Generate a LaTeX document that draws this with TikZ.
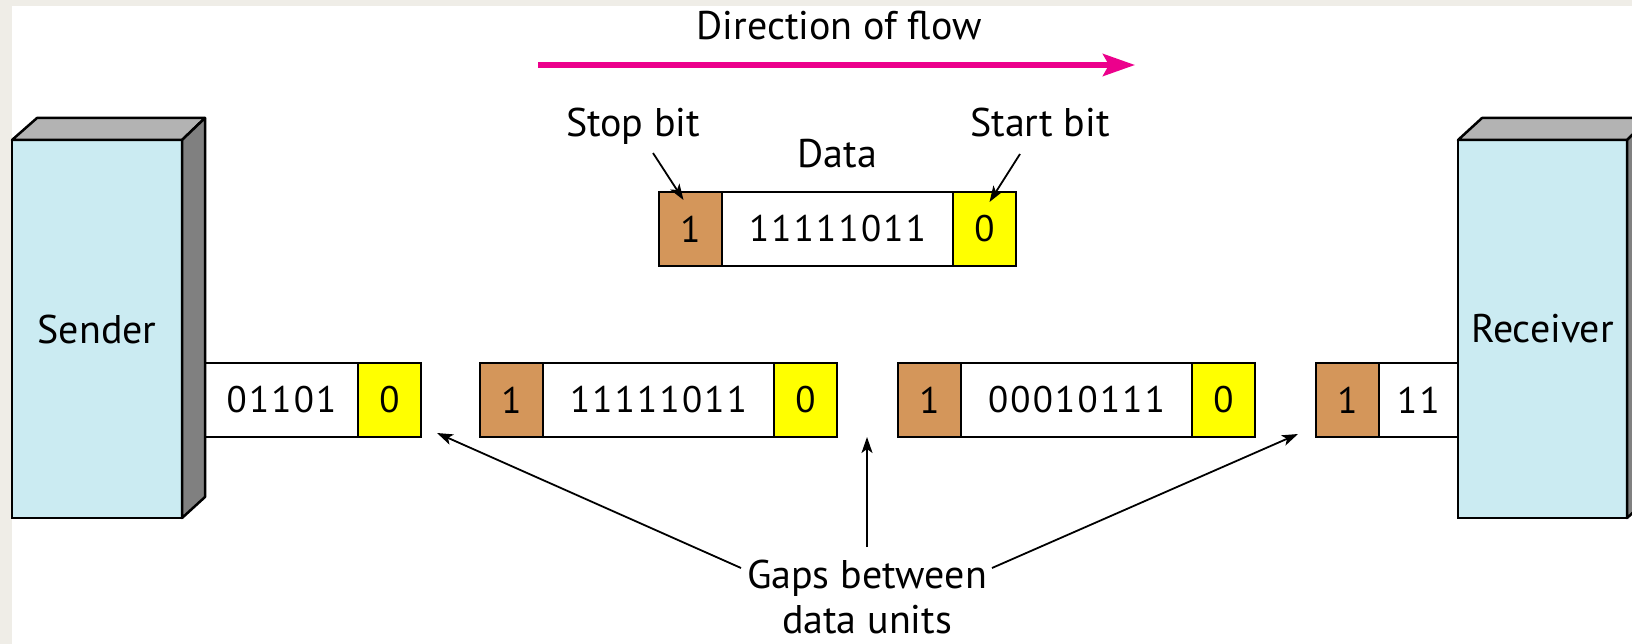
\documentclass[tikz,border=0pt]{standalone}
\usepackage{fontspec}
\setmainfont{PT Sans}
\newfontfamily\bitfamily[LetterSpace=6]{PT Sans}
\newcommand{\lblfont}{\fontsize{40}{46}\selectfont}
\newcommand{\bitfont}{\bitfamily\fontsize{37}{44}\selectfont}
\usetikzlibrary{arrows.meta}
\definecolor{beige}{HTML}{EFEDE7}
\definecolor{stopc}{HTML}{D4965A}
\definecolor{startc}{HTML}{FFFF00}
\definecolor{boxblue}{HTML}{CBEBF2}
\definecolor{topgray}{HTML}{B3B3B3}
\definecolor{sidegray}{HTML}{808080}
\definecolor{flowpink}{HTML}{EC008C}
\begin{document}
\begin{tikzpicture}[x=1pt,y=-1pt,
  bitcell/.style={draw=black, line width=2.5pt, inner sep=0pt, outer sep=0pt, minimum height=74pt, anchor=west, font=\bitfont},
  datacell/.style={bitcell, fill=white},
  stopcell/.style={bitcell, fill=stopc, minimum width=63pt},
  startcell/.style={bitcell, fill=startc, minimum width=63pt},
  lbltext/.style={font=\lblfont, inner sep=0pt, outer sep=0pt, anchor=base},
  stationbox/.style={draw=black, line width=2.5pt, fill=boxblue, inner sep=0pt, outer sep=0pt, minimum width=170pt, minimum height=378pt, font=\lblfont},
  sideface/.style={draw=black, line width=2.5pt, line join=round},
  ptr/.style={draw=black, line width=1.8pt, -{Stealth[length=16pt,width=11pt,inset=4pt]}},
  flowarrow/.style={draw=flowpink, line width=5.5pt, -{Stealth[length=32pt,width=22pt,inset=6pt]}}
]
\fill[beige] (0,0) rectangle (1632,644);
\fill[white] (12,6) rectangle (1632,644);
\useasboundingbox (0,0) rectangle (1632,644);

% flow arrow
\node[lbltext] (flowlbl) at (839,40) {Direction of flow};
\coordinate (flowS) at (538,65);
\coordinate (flowE) at (1135,65);
\draw[flowarrow] (flowS) -- (flowE);

% top data unit
\node[stopcell] (t1) at (659,229) {1};
\node[datacell, minimum width=231pt] (t2) at (t1.east) {11111011};
\node[startcell] (t3) at (t2.east) {0};
\node[lbltext] (stoplbl) at (633,137) {Stop bit};
\node[lbltext] (datalbl) at (837.5,168) {Data};
\node[lbltext] (startlbl) at (1040,137) {Start bit};
\draw[ptr] ([xshift=20pt,yshift=-16pt]stoplbl.base) -- ([xshift=-7pt,yshift=-8pt]t1.north);
\draw[ptr] ([xshift=-20pt,yshift=-17pt]startlbl.base) -- ([xshift=5pt,yshift=-10pt]t3.north);

% row of data units
\node[datacell, minimum width=153pt] (a1) at (205,400) {01101};
\node[startcell] (a2) at (a1.east) {0};
\node[stopcell] (b1) at (480,400) {1};
\node[datacell, minimum width=231pt] (b2) at (b1.east) {11111011};
\node[startcell] (b3) at (b2.east) {0};
\node[stopcell] (c1) at (898,400) {1};
\node[datacell, minimum width=231pt] (c2) at (c1.east) {00010111};
\node[startcell] (c3) at (c2.east) {0};
\node[stopcell] (d1) at (1316,400) {1};
\node[datacell, minimum width=79pt] (d2) at (d1.east) {11};

% sender
\node[stationbox] (sender) at (97,329) {Sender};
\draw[sideface, fill=topgray] (sender.north west) -- ++(25,-22) -- ++(168,0) -- (sender.north east) -- cycle;
\draw[sideface, fill=sidegray] (sender.north east) -- ++(23,-22) -- ++(0,379) -- (sender.south east) -- cycle;

% receiver
\node[stationbox, minimum width=169pt] (receiver) at (1542.5,329) {Receiver};
\draw[sideface, fill=topgray] (receiver.north west) -- ++(24,-22) -- ++(168,0) -- (receiver.north east) -- cycle;
\draw[sideface, fill=sidegray] (receiver.north east) -- ++(23,-22) -- ++(0,379) -- (receiver.south east) -- cycle;

% gaps
\node[lbltext] (gaps1) at (867,588) {Gaps between};
\node[lbltext] (gaps2) at (867,633) {data units};
\coordinate (gapA) at (437,433);
\coordinate (gapB) at (867,437);
\coordinate (gapC) at (1298,434);
\draw[ptr] ([xshift=-6pt,yshift=20pt]gaps1.base west) -- (gapA);
\draw[ptr] ([yshift=41pt]gaps1.base) -- (gapB);
\draw[ptr] ([xshift=5pt,yshift=20pt]gaps1.base east) -- (gapC);
\end{tikzpicture}
\end{document}
